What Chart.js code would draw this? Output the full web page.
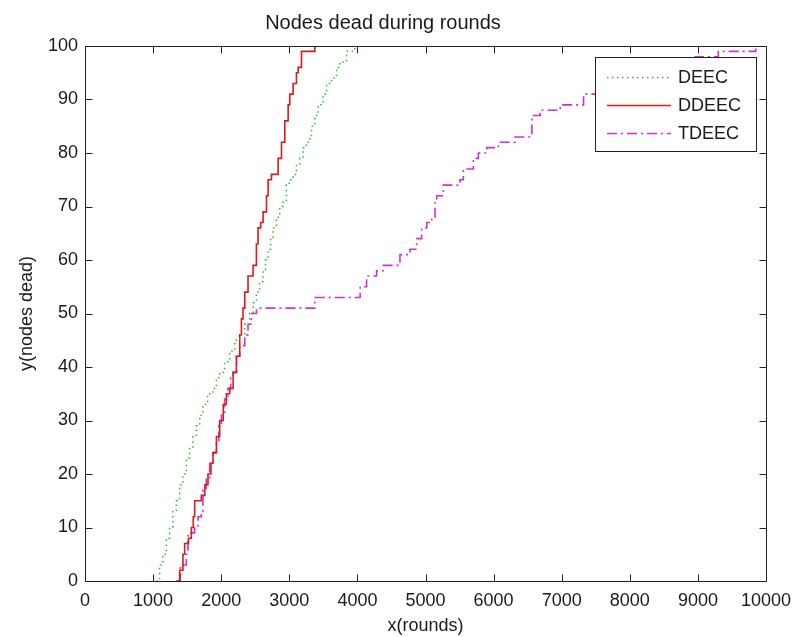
<!DOCTYPE html>
<html>
<head>
<meta charset="utf-8">
<script src="https://cdn.jsdelivr.net/npm/chart.js@4.4.0/dist/chart.umd.min.js"></script>
<style>
  html, body { margin: 0; padding: 0; background: #fff; }
  #wrap { width: 792px; height: 637px; }
</style>
</head>
<body>
<div id="wrap"><canvas id="grafico" width="792" height="637"></canvas></div>
<script>
// values: round at which the dead count changes
const seriesNames = ["DEEC", "DDEEC", "TDEEC"];

const deecRounds = [1047, 1095, 1144, 1195, 1243, 1290, 1341, 1390, 1438, 1490, 1537, 1585, 1635, 1685, 1732, 1800, 1880, 1930, 1978, 2050, 2125, 2200, 2272, 2345, 2419, 2470, 2517, 2565, 2615, 2650, 2689, 2725, 2762, 2810, 2860, 2909, 2958, 3000, 3056, 3105, 3154, 3203, 3250, 3301, 3326, 3375, 3424, 3497, 3547, 3620, 3694, 3743, 3841, 3915, 3963];
const deecDead   = [0, 3, 5, 8, 10, 13, 15, 18, 20, 23, 25, 27, 29, 31, 33, 35, 36, 38, 39, 41, 43, 45, 46, 48, 50, 52, 54, 56, 58, 60, 62, 64, 66, 68, 70, 71, 74, 75, 76, 78, 79, 81, 82, 83, 85, 87, 89, 91, 93, 94, 96, 97, 99, 99, 100];

const ddeecRounds = [1340, 1390, 1438, 1463, 1520, 1561, 1590, 1610, 1660, 1708, 1760, 1806, 1850, 1880, 1930, 1978, 2030, 2076, 2125, 2175, 2223, 2272, 2297, 2320, 2346, 2394, 2468, 2517, 2541, 2580, 2615, 2665, 2689, 2738, 2811, 2836, 2885, 2934, 2983, 3007, 3056, 3105, 3130, 3179, 3375];
const ddeecDead   = [0, 2, 5, 7, 8, 10, 12, 15, 15, 16, 18, 20, 22, 24, 27, 30, 33, 35, 36, 39, 42, 46, 49, 51, 54, 57, 59, 63, 66, 67, 69, 72, 75, 76, 76, 79, 82, 86, 89, 91, 93, 95, 96, 99, 100];

const tdeecRounds = [1370, 1400, 1488, 1512, 1610, 1660, 1708, 1732, 1780, 1831, 1880, 1929, 1965, 2003, 2050, 2100, 2140, 2174, 2225, 2272, 2346, 2394, 2444, 2518, 3375, 4040, 4135, 4282, 4380, 4625, 4772, 4870, 4944, 5018, 5091, 5140, 5165, 5262, 5507, 5556, 5703, 5776, 5900, 6071, 6316, 6562, 6684, 6978, 7321, 7550, 7850, 8200, 8600, 8960, 9300, 9850];
const tdeecDead   = [0, 3, 5, 9, 10, 12, 13, 17, 19, 22, 24, 26, 29, 31, 34, 36, 38, 39, 42, 44, 46, 48, 50, 51, 53, 55, 57, 58, 59, 61, 62, 64, 66, 67, 68, 71, 72, 74, 75, 77, 79, 80, 81, 82, 83, 87, 88, 89, 91, 92, 93, 95, 97, 98, 99, 100];

const xTicks = [0, 1000, 2000, 3000, 4000, 5000, 6000, 7000, 8000, 9000, 10000];
const yTicks = [0, 10, 20, 30, 40, 50, 60, 70, 80, 90, 100];

function pares(rs, ds) {
  return rs.map((r, i) => ({ x: r, y: ds[i] }));
}

const fonte = "'Liberation Sans', Arial, sans-serif";

// moldura estilo matlab com ticks para dentro
const moldura = {
  id: "moldura",
  afterDatasetsDraw(chart) {
    const { ctx, chartArea: a, scales } = chart;
    const L = Math.round(a.left) + 0.5, R = Math.round(a.right) + 0.5;
    const T = Math.round(a.top) + 0.5, B = Math.round(a.bottom) + 0.5;
    ctx.save();
    ctx.strokeStyle = "#222";
    ctx.lineWidth = 1;
    ctx.beginPath();
    xTicks.forEach(v => {
      const px = Math.round(scales.x.getPixelForValue(v)) + 0.5;
      ctx.moveTo(px, B); ctx.lineTo(px, B - 7);
      ctx.moveTo(px, T); ctx.lineTo(px, T + 7);
    });
    yTicks.forEach(v => {
      const py = Math.round(scales.y.getPixelForValue(v)) + 0.5;
      ctx.moveTo(L, py); ctx.lineTo(L + 7, py);
      ctx.moveTo(R, py); ctx.lineTo(R - 7, py);
    });
    ctx.rect(L, T, R - L, B - T);
    ctx.stroke();

    // legenda
    const bx = 595.5, by = 57.5, bw = 161, bh = 94;
    ctx.fillStyle = "#fff";
    ctx.fillRect(bx, by, bw, bh);
    ctx.strokeRect(bx, by, bw, bh);
    ctx.font = "18px " + fonte;
    ctx.textBaseline = "middle";
    chart.data.datasets.forEach((ds, i) => {
      const yy = by + 20 + i * 28;
      ctx.save();
      ctx.strokeStyle = ds.borderColor;
      ctx.lineWidth = ds.borderWidth;
      ctx.setLineDash(ds.borderDash || []);
      ctx.beginPath();
      ctx.moveTo(607, yy); ctx.lineTo(671, yy);
      ctx.stroke();
      ctx.restore();
      ctx.fillStyle = "#1a1a1a";
      ctx.fillText(ds.label, 678, yy + 1);
    });
    ctx.restore();
  }
};

const ctx = document.getElementById("grafico").getContext("2d");

new Chart(ctx, {
  type: "line",
  data: {
    datasets: [
      {
        label: seriesNames[0],
        data: pares(deecRounds, deecDead),
        borderColor: "#2fb82f",
        borderWidth: 1.5,
        borderDash: [1.5, 3.5]
      },
      {
        label: seriesNames[1],
        data: pares(ddeecRounds, ddeecDead),
        borderColor: "#d81c1c",
        borderWidth: 1.6
      },
      {
        label: seriesNames[2],
        data: pares(tdeecRounds, tdeecDead),
        borderColor: "#cc33cc",
        borderWidth: 1.6,
        borderDash: [10, 4, 2, 4]
      }
    ]
  },
  options: {
    responsive: false,
    animation: false,
    layout: { padding: { left: 0, right: 26, top: 0, bottom: 0 } },
    elements: {
      point: { radius: 0 },
      line: { stepped: true, tension: 0, fill: false }
    },
    plugins: {
      legend: { display: false },
      tooltip: { enabled: false },
      title: {
        display: true,
        text: "Nodes dead during rounds",
        color: "#1a1a1a",
        font: { family: fonte, size: 20, weight: "normal" },
        padding: { top: 11, bottom: 11 }
      }
    },
    scales: {
      x: {
        type: "linear",
        min: 0,
        max: 10000,
        afterBuildTicks: s => { s.ticks = xTicks.map(v => ({ value: v })); },
        afterFit: s => { s.height = 56; s.paddingLeft = 0; s.paddingRight = 0; },
        grid: { display: false, drawTicks: false },
        border: { display: false },
        ticks: {
          color: "#1a1a1a",
          font: { family: fonte, size: 18 },
          padding: 9,
          maxRotation: 0,
          autoSkip: false,
          callback: v => String(v)
        },
        title: {
          display: true,
          text: "x(rounds)",
          color: "#1a1a1a",
          font: { family: fonte, size: 18 },
          padding: { top: 1, bottom: 0 }
        }
      },
      y: {
        type: "linear",
        min: 0,
        max: 100,
        afterBuildTicks: s => { s.ticks = yTicks.map(v => ({ value: v })); },
        afterFit: s => { s.width = 85; s.paddingTop = 0; s.paddingBottom = 0; },
        grid: { display: false, drawTicks: false },
        border: { display: false },
        ticks: {
          color: "#1a1a1a",
          font: { family: fonte, size: 18 },
          padding: 7,
          autoSkip: false,
          callback: v => String(v)
        },
        title: {
          display: true,
          text: "y(nodes dead)",
          color: "#1a1a1a",
          font: { family: fonte, size: 18 },
          padding: { top: 16, bottom: 0 }
        }
      }
    }
  },
  plugins: [moldura]
});
</script>
</body>
</html>
